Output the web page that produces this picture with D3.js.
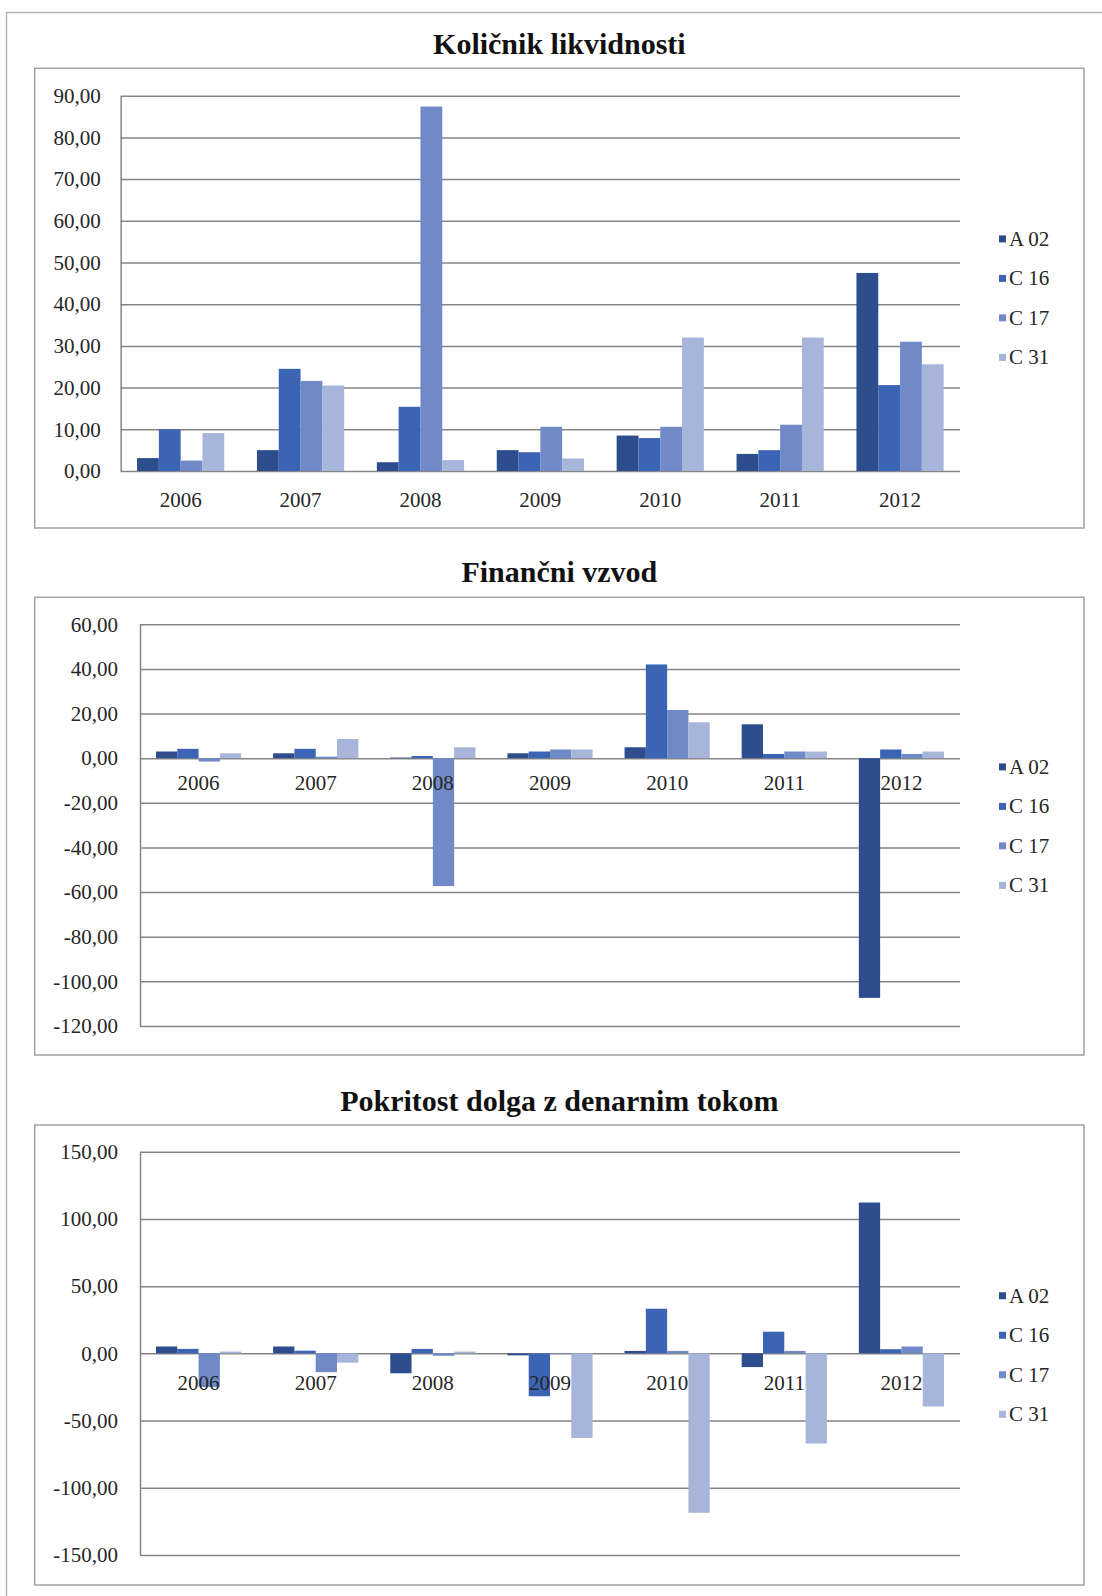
<!DOCTYPE html>
<html><head><meta charset="utf-8">
<script src="https://cdn.jsdelivr.net/npm/d3@7/dist/d3.min.js"></script>
<style>
html,body{margin:0;padding:0;background:#fff;}
svg{display:block;}
</style></head><body>
<svg id="c" width="1102" height="1596"></svg>
<script>
// ---------- data ----------
const years = ["2006","2007","2008","2009","2010","2011","2012"];
const seriesNames = ["A 02","C 16","C 17","C 31"];
const seriesColors = ["#2E4D8D","#3C64B4","#7089C7","#A8B5DA"];

const titleLiquidity = "Količnik likvidnosti";
const titleLeverage = "Finančni vzvod";
const titleCoverage = "Pokritost dolga z denarnim tokom";

// Količnik likvidnosti
const liqA02 = [3.1, 5.0, 2.1, 5.0, 8.5, 4.1, 47.5];
const liqC16 = [10.0, 24.5, 15.4, 4.5, 7.9, 5.0, 20.6];
const liqC17 = [2.5, 21.6, 87.4, 10.6, 10.6, 11.1, 31.0];
const liqC31 = [9.1, 20.5, 2.6, 3.0, 32.0, 32.0, 25.6];
const liqTicks = [0,10,20,30,40,50,60,70,80,90];

// Finančni vzvod
const levA02 = [3.0, 2.2, 0.3, 2.2, 4.9, 15.2, -107.4];
const levC16 = [4.2, 4.2, 1.0, 3.0, 42.0, 1.9, 3.9];
const levC17 = [-1.5, 0.7, -57.3, 3.9, 21.6, 3.0, 1.9];
const levC31 = [2.2, 8.6, 4.9, 3.9, 16.1, 3.0, 3.0];
const levTicks = [-120,-100,-80,-60,-40,-20,0,20,40,60];

// Pokritost dolga z denarnim tokom
const covA02 = [5.1, 5.1, -14.8, -1.5, 1.8, -10.2, 112.2];
const covC16 = [3.3, 2.0, 3.3, -31.9, 33.2, 16.1, 3.1];
const covC17 = [-25.0, -14.0, -1.8, -0.5, 1.8, 1.8, 5.1];
const covC31 = [1.3, -6.9, 1.3, -63.0, -118.6, -67.1, -39.5];
const covTicks = [-150,-100,-50,0,50,100,150];

// ---------- layout ----------
const FONT = "'Liberation Serif','Times New Roman',serif";
const svg = d3.select("#c");
const loc = d3.formatLocale({decimal:",", thousands:".", grouping:[3], currency:["",""], minus:"-"});
const fmt = loc.format(".2f");

// outer page frame
svg.append("rect").attr("x",6.5).attr("y",12.5).attr("width",1100).attr("height",1600)
  .attr("fill","none").attr("stroke","#b4b4b4").attr("stroke-width",1.5);

const charts = [
  {title:titleLiquidity, series:[liqA02,liqC16,liqC17,liqC31], ticks:liqTicks,
   box:[34.7,68.3,1084,528], plot:[120.7,960,95.7,471], titleY:53.5, labPad:20, xLabY:507},
  {title:titleLeverage, series:[levA02,levC16,levC17,levC31], ticks:levTicks,
   box:[34.7,597.3,1084,1055], plot:[140,960,624.3,1026], titleY:582, labPad:22, xLabY:790},
  {title:titleCoverage, series:[covA02,covC16,covC17,covC31], ticks:covTicks,
   box:[34.7,1125,1084,1585], plot:[140,960,1151.7,1555], titleY:1111, labPad:22, xLabY:1390}
];

charts.forEach(c => {
  const [bx1,by1,bx2,by2] = c.box;
  const [pl,pr,pt,pb] = c.plot;
  const g = svg.append("g");

  g.append("rect").attr("x",bx1).attr("y",by1).attr("width",bx2-bx1).attr("height",by2-by1)
    .attr("fill","#fff").attr("stroke","#a3a3a3").attr("stroke-width",1.5);

  g.append("text").attr("x",(bx1+bx2)/2).attr("y",c.titleY)
    .attr("text-anchor","middle").attr("font-family",FONT).attr("font-weight","bold")
    .attr("font-size",30).attr("fill","#111").text(c.title);

  const y = d3.scaleLinear().domain(d3.extent(c.ticks)).range([pb,pt]);
  const x0 = d3.scaleBand().domain(years).range([pl,pr])
    .paddingInner(1.5/5.5).paddingOuter(0.75/5.5);
  const x1 = d3.scaleBand().domain(seriesNames).range([0,x0.bandwidth()]);

  // gridlines + y labels
  const ax = g.append("g").attr("transform",`translate(${pl},0)`)
    .call(d3.axisLeft(y).tickValues(c.ticks).tickSizeInner(-(pr-pl)).tickSizeOuter(0)
      .tickPadding(c.labPad).tickFormat(fmt));
  ax.select(".domain").attr("stroke","#858585").attr("stroke-width",1.5);
  ax.selectAll(".tick line").attr("stroke","#858585").attr("stroke-width",1.5);
  ax.selectAll(".tick text").attr("font-family",FONT).attr("font-size",21).attr("fill","#262626");

  // bars
  const data = [];
  years.forEach((yr,i) => seriesNames.forEach((s,j) => data.push({yr, s, j, v:c.series[j][i]})));
  g.append("g").selectAll("rect").data(data).join("rect")
    .attr("x",d => x0(d.yr)+x1(d.s))
    .attr("width",x1.bandwidth())
    .attr("y",d => y(Math.max(0,d.v)))
    .attr("height",d => Math.abs(y(d.v)-y(0)))
    .attr("fill",d => seriesColors[d.j]);

  // x labels
  g.append("g").selectAll("text").data(years).join("text")
    .attr("x",d => x0(d)+x0.bandwidth()/2).attr("y",c.xLabY)
    .attr("text-anchor","middle").attr("font-family",FONT).attr("font-size",21)
    .attr("fill","#262626").text(d => d);

  // legend
  const midY = (by1+by2)/2, step = 39.5;
  const lg = g.append("g").selectAll("g").data(seriesNames).join("g")
    .attr("transform",(d,i) => `translate(999,${midY + (i-1.5)*step})`);
  lg.append("rect").attr("x",0).attr("y",-3.5).attr("width",7).attr("height",7)
    .attr("fill",(d,i) => seriesColors[i]);
  lg.append("text").attr("x",10).attr("y",7).attr("font-family",FONT).attr("font-size",21)
    .attr("fill","#262626").text(d => d);
});
</script>
</body></html>
